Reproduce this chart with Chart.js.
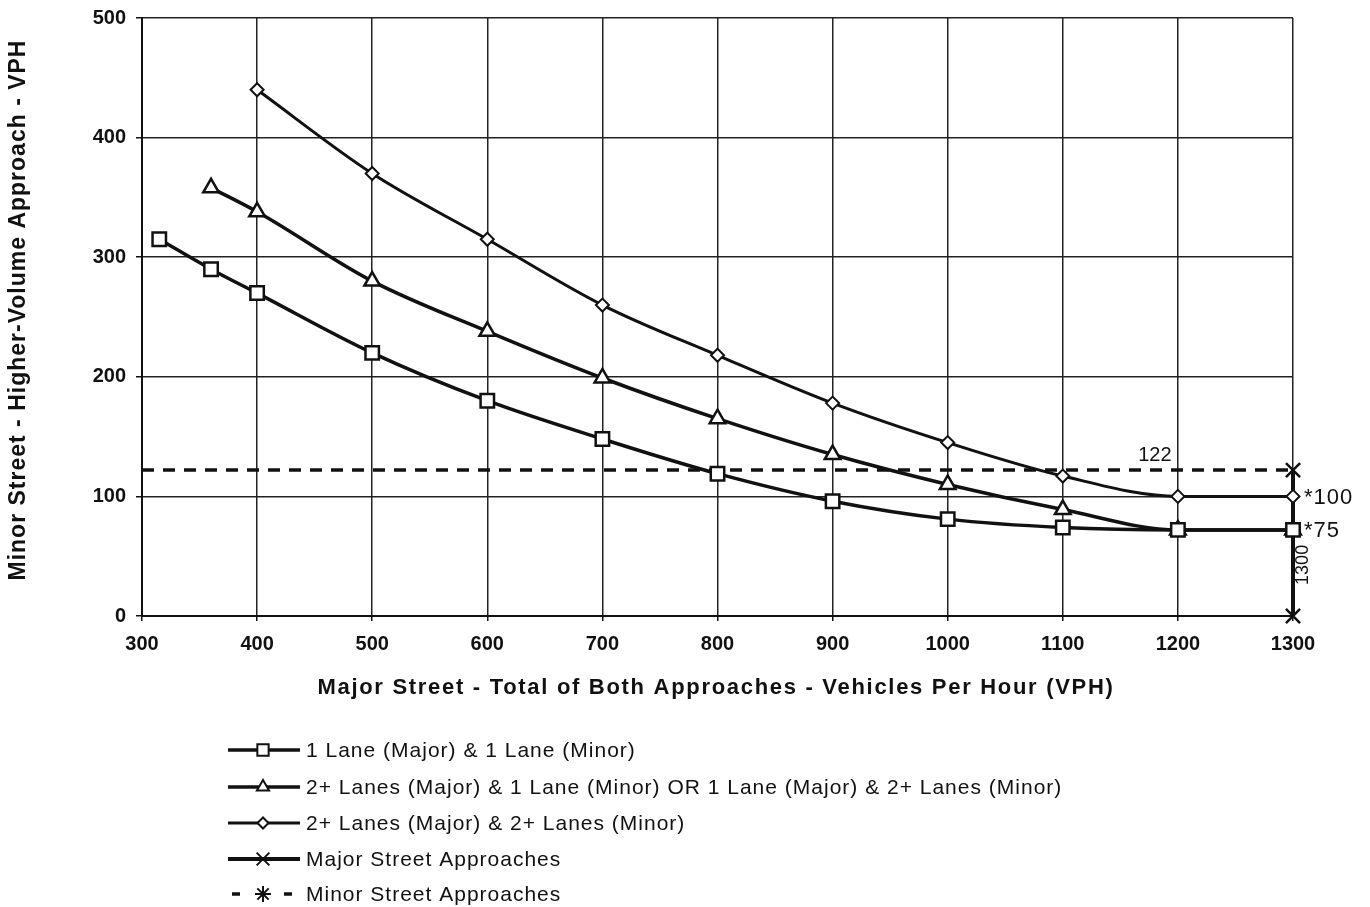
<!DOCTYPE html>
<html lang="en">
<head>
  <meta charset="UTF-8" />
  <title>Peak Hour Warrant</title>
  <script src="https://cdn.jsdelivr.net/npm/chart.js"></script>
  <style>
    html, body { margin: 0; padding: 0; background: #fff; }
    #wrap { width: 1370px; height: 907px; position: relative; }
  </style>
</head>
<body>
  <div id="wrap"><canvas id="chart" width="1370" height="907"></canvas></div>

  <script>
    // values
    const oneLaneX = [315, 360, 400, 500, 600, 700, 800, 900, 1000, 1100, 1200, 1300];
    const oneLaneY = [315, 290, 270, 220, 180, 148, 119, 96, 81, 74, 72, 72];

    const mixedX = [360, 400, 500, 600, 700, 800, 900, 1000, 1100, 1200, 1300];
    const mixedY = [358, 338, 280, 238, 199, 165, 135, 110, 89, 72, 72];

    const twoLaneX = [400, 500, 600, 700, 800, 900, 1000, 1100, 1200, 1300];
    const twoLaneY = [440, 370, 315, 260, 218, 178, 145, 117, 100, 100];

    const majorX = [1300, 1300];
    const majorY = [0, 122];

    const minorX = [300, 1300];
    const minorY = [122, 122];

    const seriesNames = [
      '1 Lane (Major) & 1 Lane (Minor)',
      '2+ Lanes (Major) & 1 Lane (Minor) OR 1 Lane (Major) & 2+ Lanes (Minor)',
      '2+ Lanes (Major) & 2+ Lanes (Minor)',
      'Major Street Approaches',
      'Minor Street Approaches'
    ];

    const xTicks = [300, 400, 500, 600, 700, 800, 900, 1000, 1100, 1200, 1300];
    const yTicks = [0, 100, 200, 300, 400, 500];

    const FONT = '"Liberation Sans", Arial, sans-serif';

    function pts(xs, ys) {
      return xs.map((x, i) => ({ x: x, y: ys[i] }));
    }

    // text drawn on top of the plot: axis titles, notes, legend
    const extras = {
      id: 'extras',
      afterDraw(chart) {
        const c = chart.ctx;
        const xs = chart.scales.x, ys = chart.scales.y;
        c.save();
        c.fillStyle = '#111';
        c.textBaseline = 'middle';

        // x axis title
        c.font = 'bold 22px ' + FONT;
        c.letterSpacing = '1.7px';
        c.textAlign = 'center';
        c.fillText('Major Street - Total of Both Approaches - Vehicles Per Hour (VPH)', 716, 688);

        // y axis title
        c.save();
        c.translate(19, 310);
        c.rotate(-Math.PI / 2);
        c.font = 'bold 23px ' + FONT;
        c.letterSpacing = '1px';
        c.fillText('Minor Street - Higher-Volume Approach - VPH', 0, 0);
        c.restore();

        // notes
        c.font = '20px ' + FONT;
        c.letterSpacing = '0px';
        c.fillText('122', xs.getPixelForValue(1180), ys.getPixelForValue(134));
        c.font = '22px ' + FONT;
        c.letterSpacing = '1px';
        c.textAlign = 'left';
        c.fillText('*100', xs.getPixelForValue(1300) + 11, ys.getPixelForValue(99));
        c.fillText('*75', xs.getPixelForValue(1300) + 11, ys.getPixelForValue(71));
        c.save();
        c.translate(xs.getPixelForValue(1300) + 10, ys.getPixelForValue(26));
        c.rotate(-Math.PI / 2);
        c.font = '18px ' + FONT;
        c.letterSpacing = '0px';
        c.textAlign = 'left';
        c.fillText('1300', 0, 0);
        c.restore();

        // legend
        const rowY = [750, 787, 823, 859, 894];
        chart.data.datasets.forEach((ds, i) => {
          const y = rowY[i];
          c.strokeStyle = '#111';
          c.lineWidth = ds.borderWidth;
          c.setLineDash([]);
          c.beginPath();
          if (i === 4) {
            c.moveTo(232, y); c.lineTo(240, y);
            c.moveTo(284, y); c.lineTo(292, y);
          } else {
            c.moveTo(228, y); c.lineTo(300, y);
          }
          c.stroke();
          c.lineWidth = 2;
          c.fillStyle = '#fff';
          Chart.helpers.drawPoint(c, {
            pointStyle: ds.legendStyle,
            radius: ds.legendRadius,
            rotation: 0,
            borderWidth: 2
          }, 263, y);
          c.fillStyle = '#111';
          c.font = '21px ' + FONT;
          c.letterSpacing = '1px';
          c.textAlign = 'left';
          c.fillText(ds.label, 306, y + 1);
        });
        c.restore();
      }
    };

    const black = '#111';
    const base = {
      showLine: true,
      clip: false,
      borderColor: black,
      pointBorderColor: black,
      pointBackgroundColor: '#fff',
      pointBorderWidth: 2,
      fill: false
    };

    new Chart(document.getElementById('chart'), {
      type: 'scatter',
      data: {
        datasets: [
          Object.assign({}, base, {
            label: seriesNames[0], data: pts(oneLaneX, oneLaneY),
            borderWidth: 3.5, cubicInterpolationMode: 'monotone', pointStyle: 'rect', pointRadius: 9.5,
            pointBorderWidth: 2.5, legendStyle: 'rect', legendRadius: 8
          }),
          Object.assign({}, base, {
            label: seriesNames[1], data: pts(mixedX, mixedY),
            borderWidth: 3.5, cubicInterpolationMode: 'monotone', pointStyle: 'triangle', pointRadius: 9,
            pointBorderWidth: 2.5, legendStyle: 'triangle', legendRadius: 7
          }),
          Object.assign({}, base, {
            label: seriesNames[2], data: pts(twoLaneX, twoLaneY),
            borderWidth: 3, cubicInterpolationMode: 'monotone', pointStyle: 'rectRot', pointRadius: 6.5,
            legendStyle: 'rectRot', legendRadius: 5.5
          }),
          Object.assign({}, base, {
            label: seriesNames[3], data: pts(majorX, majorY),
            borderWidth: 4, tension: 0, pointStyle: 'crossRot', pointRadius: 10,
            pointBorderWidth: 2.5, legendStyle: 'crossRot', legendRadius: 9
          }),
          Object.assign({}, base, {
            label: seriesNames[4], data: pts(minorX, minorY),
            borderWidth: 3.5, borderDash: [12, 9], tension: 0, pointStyle: 'star', pointRadius: 0,
            legendStyle: 'star', legendRadius: 8
          })
        ]
      },
      options: {
        responsive: false,
        animation: false,
        layout: { padding: { top: 18, right: 77, left: 0, bottom: 0 } },
        plugins: {
          legend: { display: false },
          tooltip: { enabled: false }
        },
        scales: {
          x: {
            type: 'linear',
            min: 300, max: 1300,
            afterBuildTicks: s => { s.ticks = xTicks.map(v => ({ value: v })); },
            afterFit: s => { s.height = 291; s.paddingLeft = 0; s.paddingRight = 0; },
            border: { color: black, width: 2 },
            grid: { color: '#222', lineWidth: 1.5, tickLength: 5, tickColor: black },
            ticks: {
              color: '#111', padding: 11, maxRotation: 0,
              callback: v => String(v),
              font: { family: FONT, size: 20, weight: 'bold' }
            }
          },
          y: {
            type: 'linear',
            min: 0, max: 500,
            afterBuildTicks: s => { s.ticks = yTicks.map(v => ({ value: v })); },
            afterFit: s => { s.width = 142; s.paddingTop = 0; s.paddingBottom = 0; },
            border: { color: black, width: 2 },
            grid: { color: '#222', lineWidth: 1.5, tickLength: 6, tickColor: black },
            ticks: {
              color: '#111', padding: 10,
              callback: v => String(v),
              font: { family: FONT, size: 20, weight: 'bold' }
            }
          }
        }
      },
      plugins: [extras]
    });
  </script>
</body>
</html>
